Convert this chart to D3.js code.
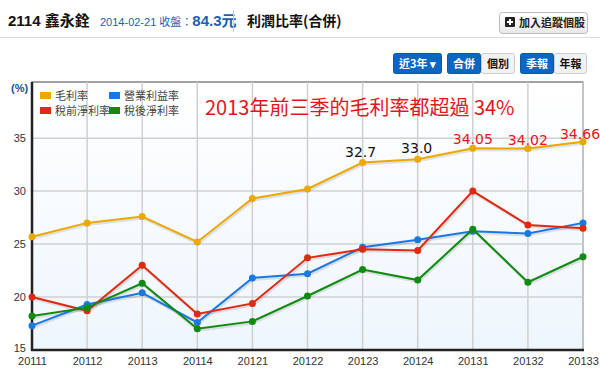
<!DOCTYPE html>
<html><head><meta charset="utf-8">
<script src="https://cdn.jsdelivr.net/npm/d3@7"></script>
<style>
html,body{margin:0;padding:0;background:#fff;}
svg{display:block;font-family:Arial,"Liberation Sans","Noto Sans CJK TC",sans-serif;}
</style></head><body>
<svg id="c" width="600" height="369"></svg>
<script>
const categories = ["20111","20112","20113","20114","20121","20122","20123","20124","20131","20132","20133"];
const grossMargin   = [25.7, 27.0, 27.6, 25.2, 29.3, 30.2, 32.7, 33.0, 34.05, 34.02, 34.66];
const operMargin    = [17.3, 19.3, 20.4, 17.6, 21.8, 22.2, 24.7, 25.4, 26.2, 26.0, 27.0];
const preTaxMargin  = [20.0, 18.7, 23.0, 18.4, 19.4, 23.7, 24.5, 24.4, 30.0, 26.8, 26.5];
const afterTaxMargin= [18.2, 19.0, 21.3, 17.0, 17.7, 20.1, 22.6, 21.6, 26.4, 21.4, 23.8];
const seriesNames = ["毛利率","營業利益率","稅前淨利率","稅後淨利率"];
const yTicks = [15, 20, 25, 30, 35];
const annotations = [
  {i:6, text:"32.7", color:"#111", dy:-6, dx:-2},
  {i:7, text:"33.0", color:"#111", dy:-6, dx:-1},
  {i:8, text:"34.05", color:"#e8141c", dy:-4, dx:0},
  {i:9, text:"34.02", color:"#e8141c", dy:-4, dx:0},
  {i:10, text:"34.66", color:"#e8141c", dy:-3, dx:-3}
];
const headline = "2013年前三季的毛利率都超過 34%";

const svg = d3.select("#c");
const cjk = '"Noto Sans CJK TC","Noto Sans CJK SC",sans-serif';

// header
svg.append("text").attr("x",8).attr("y",26).attr("font-size",15).attr("font-weight","bold")
  .attr("font-family",'Arial,'+cjk).attr("fill","#111").text("2114 鑫永銓");
const h2 = svg.append("text").attr("x",100).attr("y",26).attr("font-family",'Arial,'+cjk).attr("fill","#1a5fb0");
h2.append("tspan").attr("font-size",11).text("2014-02-21 收盤：");
h2.append("tspan").attr("font-size",15).attr("font-weight","bold").text("84.3元");
svg.append("line").attr("x1",233.5).attr("x2",233.5).attr("y1",10).attr("y2",32).attr("stroke","#ccc");
svg.append("text").attr("x",247).attr("y",26).attr("font-size",14).attr("font-weight","bold")
  .attr("font-family",cjk).attr("fill","#111").text("利潤比率(合併)");
svg.append("line").attr("x1",0).attr("x2",600).attr("y1",37.5).attr("y2",37.5).attr("stroke","#ddd");

const defs = svg.append("defs");
const bg = defs.append("linearGradient").attr("id","btn").attr("x1",0).attr("x2",0).attr("y1",0).attr("y2",1);
bg.append("stop").attr("offset","0").attr("stop-color","#fff");
bg.append("stop").attr("offset","1").attr("stop-color","#e8e8e8");
svg.append("rect").attr("x",499.5).attr("y",12.5).attr("width",88).attr("height",21).attr("rx",3)
  .attr("fill","url(#btn)").attr("stroke","#bbb");
svg.append("rect").attr("x",505).attr("y",17).attr("width",10).attr("height",10).attr("rx",1).attr("fill","#222");
svg.append("path").attr("d","M510,19V25M507,22H513").attr("stroke","#fff").attr("stroke-width",2);
svg.append("text").attr("x",519).attr("y",27).attr("font-size",11).attr("font-weight","bold")
  .attr("font-family",cjk).attr("fill","#222").text("加入追蹤個股");

// toggle buttons
const btns = [
  {x:393, w:49, t:"近3年 ▾", on:true},
  {x:447, w:34, t:"合併", on:true},
  {x:481, w:34, t:"個別", on:false},
  {x:520, w:34, t:"季報", on:true},
  {x:554, w:33, t:"年報", on:false}
];
btns.forEach(b=>{
  svg.append("rect").attr("x",b.x+0.5).attr("y",53.5).attr("width",b.w-1).attr("height",20).attr("rx",2)
    .attr("fill",b.on?"#0c66c2":"#f2f2f2").attr("stroke",b.on?"#0a58a8":"#ccc");
  svg.append("text").attr("x",b.x+b.w/2).attr("y",68).attr("text-anchor","middle").attr("font-size",11)
    .attr("font-weight","bold").attr("font-family",cjk).attr("fill",b.on?"#fff":"#111").text(b.t);
});

// chart
const x = d3.scalePoint().domain(categories).range([32, 583]);
const y = d3.scaleLinear().domain([15, 40.3]).range([350, 82]);
const colors = ["#eaa800","#1a78e0","#e02a10","#108a10"];
const data = [grossMargin, operMargin, preTaxMargin, afterTaxMargin];

const pg = defs.append("linearGradient").attr("id","plotbg").attr("x1",0).attr("x2",0).attr("y1",0).attr("y2",1);
pg.append("stop").attr("offset","0").attr("stop-color","#ffffff");
pg.append("stop").attr("offset","1").attr("stop-color","#eef6fd");
const [x0,x1] = x.range();
svg.append("rect").attr("x",x0).attr("y",y(40.3)).attr("width",x1-x0).attr("height",y(15)-y(40.3))
  .attr("fill","url(#plotbg)").attr("stroke","#444").attr("stroke-width",1);

// grid
svg.append("g").selectAll("line").data(categories).join("line")
  .attr("x1",d=>x(d)).attr("x2",d=>x(d)).attr("y1",y(40.3)).attr("y2",y(15))
  .attr("stroke","#cfcfcf").attr("stroke-width",1.5);
svg.append("g").selectAll("line").data(yTicks).join("line")
  .attr("x1",x0).attr("x2",x1).attr("y1",d=>y(d)).attr("y2",d=>y(d))
  .attr("stroke","#d0d0d0").attr("stroke-width",1.5);

// axes
const yAxis = svg.append("g").attr("transform",`translate(${x0},0)`)
  .call(d3.axisLeft(y).tickValues(yTicks).tickSize(0).tickPadding(6));
yAxis.select(".domain").remove();
yAxis.selectAll("text").attr("font-size",11).attr("fill","#333").attr("font-family","Arial,sans-serif")
  .attr("dy",d=>d===15?"0.1em":"0.32em");
const xAxis = svg.append("g").attr("transform",`translate(0,${y(15)})`)
  .call(d3.axisBottom(x).tickSize(0).tickPadding(7));
xAxis.select(".domain").remove();
xAxis.selectAll("text").attr("font-size",11).attr("fill","#333").attr("font-family","Arial,sans-serif");

svg.append("line").attr("x1",x0).attr("x2",x0).attr("y1",y(40.3)).attr("y2",y(15)+1).attr("stroke","#222").attr("stroke-width",2.5);
svg.append("line").attr("x1",x0-1).attr("x2",x1+1).attr("y1",y(15)).attr("y2",y(15)).attr("stroke","#222").attr("stroke-width",2.5);

svg.append("text").attr("x",11).attr("y",92).attr("font-size",11).attr("font-weight","bold")
  .attr("fill","#1a4f9a").attr("font-family","Arial,sans-serif").text("(%)");

// series
const line = d3.line().x((d,i)=>x(categories[i])).y(d=>y(d));
data.forEach((s,k)=>{
  svg.append("path").datum(s).attr("d",line).attr("fill","none").attr("stroke","#000")
    .attr("stroke-opacity",0.1).attr("stroke-width",3).attr("transform","translate(1,1.5)");
});
data.forEach((s,k)=>{
  const g = svg.append("g");
  g.append("path").datum(s).attr("d",line).attr("fill","none").attr("stroke",colors[k]).attr("stroke-width",2);
  g.selectAll("circle").data(s).join("circle").attr("cx",(d,i)=>x(categories[i])).attr("cy",d=>y(d))
    .attr("r",3.5).attr("fill",colors[k]);
});

// legend
const lg = svg.append("g");
seriesNames.forEach((n,i)=>{
  const lx = 40 + (i%2)*69, ly = 92 + Math.floor(i/2)*15;
  lg.append("rect").attr("x",lx).attr("y",ly).attr("width",11).attr("height",7).attr("fill",colors[i]);
  lg.append("text").attr("x",lx+15).attr("y",ly+8).attr("font-size",11).attr("font-family",cjk)
    .attr("fill","#444").text(n);
});

// headline
svg.append("text").attr("x",205).attr("y",115).attr("font-size",20).attr("fill","#e8141c")
  .attr("font-family",'"Noto Sans CJK TC",sans-serif').text(headline);

// value labels
svg.append("g").selectAll("text").data(annotations).join("text")
  .attr("x",d=>x(categories[d.i])+d.dx).attr("y",d=>y(grossMargin[d.i])+d.dy)
  .attr("text-anchor","middle").attr("font-size",14).attr("fill",d=>d.color)
  .attr("font-family","'DejaVu Sans',sans-serif").text(d=>d.text);
</script>
</body></html>
